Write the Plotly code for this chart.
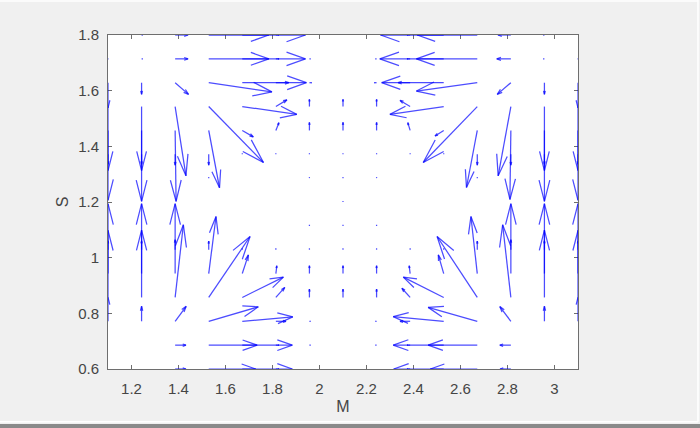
import plotly.graph_objects as go

# grid of the field (M across, S up)
M_GRID = [1.1, 1.2429, 1.3857, 1.5286, 1.6714, 1.8143, 1.9571, 2.1,
          2.2429, 2.3857, 2.5286, 2.6714, 2.8143, 2.9571, 3.1]
S_GRID = [0.6, 0.6857, 0.7714, 0.8571, 0.9429, 1.0286, 1.1143, 1.2,
          1.2857, 1.3714, 1.4571, 1.5429, 1.6286, 1.7143, 1.8]

# arrow components as drawn (data units), rows from S=0.6 up to S=1.8
U = [
    [0, 0, 0.046, 0.200, 0.213, 0.013, 0, 0, 0, -0.013, -0.213, -0.200, -0.046, 0, 0],
    [0, 0, 0.046, 0.206, 0.213, 0.013, 0.004, 0, -0.004, -0.013, -0.215, -0.209, -0.047, 0, 0],
    [0, 0, 0.047, 0.211, 0.215, 0.043, 0.004, 0, -0.004, -0.043, -0.215, -0.209, -0.047, 0, 0],
    [0, 0, 0.035, 0.176, 0.175, 0.038, 0, 0, 0, -0.035, -0.172, -0.171, -0.035, 0, 0],
    [0, 0, 0, 0.031, 0.026, 0.004, 0, 0, 0, -0.004, -0.023, -0.027, 0, 0, 0],
    [0, 0, 0, 0, 0, 0, 0, 0, 0, 0, 0, 0, 0, 0, 0],
    [0, 0, 0, 0, 0, 0, 0, 0, 0, 0, 0, 0, 0, 0, 0],
    [0, 0, 0, 0, 0, 0, 0, 0, 0, 0, 0, 0, 0, 0, 0],
    [0, 0, 0, 0, 0, 0, 0, 0, 0, 0, 0, 0, 0, 0, 0],
    [0, 0, 0, 0, 0, 0, 0, 0, 0, 0, 0, 0, 0, 0, 0],
    [0, 0, 0.004, 0.046, 0.047, 0.013, 0, 0, 0, -0.010, -0.037, -0.046, -0.004, 0, 0],
    [0, 0, 0.046, 0.233, 0.232, 0.047, 0, 0, 0, -0.043, -0.229, -0.230, -0.054, 0, 0],
    [0, 0, 0.057, 0.269, 0.273, 0.055, 0.009, 0, -0.009, -0.051, -0.264, -0.259, -0.058, 0, 0],
    [0.002, 0.004, 0.055, 0.256, 0.269, 0.013, 0.004, 0, -0.004, -0.013, -0.272, -0.259, -0.060, -0.004, -0.002],
    [0, 0.004, 0.055, 0.256, 0.269, 0.013, 0, 0, 0, -0.013, -0.269, -0.256, -0.055, -0.004, 0],
]
V = [
    [0, 0, 0, 0, 0, 0, 0, 0, 0, 0, 0, 0, 0, 0, 0],
    [0, 0, 0, 0, 0, 0, 0, 0, 0, 0, 0, 0, 0, 0, 0],
    [0.086, 0.054, 0.054, 0.052, 0.016, 0, 0, 0, 0, 0, 0.017, 0.050, 0.053, 0.054, 0.086],
    [0.241, 0.242, 0.261, 0.219, 0.073, 0.036, 0.030, 0.030, 0.030, 0.033, 0.073, 0.219, 0.261, 0.242, 0.241],
    [0.251, 0.251, 0.251, 0.205, 0.067, 0.028, 0.028, 0.028, 0.028, 0.028, 0.067, 0.205, 0.251, 0.251, 0.251],
    [0.032, 0.032, 0.036, 0.031, 0.004, 0.004, 0.004, 0.004, 0.004, 0.004, 0.004, 0.031, 0.036, 0.032, 0.032],
    [0, 0, 0, 0, 0, 0, 0.003, 0.003, 0.003, 0, 0, 0, 0, 0, 0],
    [0, 0, 0, 0, 0, 0, 0, 0.003, 0, 0, 0, 0, 0, 0, 0],
    [0, 0, 0, 0.003, 0, 0, 0.003, 0.003, 0.003, 0, 0, 0.003, 0, 0, 0],
    [-0.036, -0.036, -0.039, -0.039, 0.003, 0.003, 0.003, 0.003, 0.003, 0.003, 0.003, -0.039, -0.039, -0.036, -0.036],
    [-0.251, -0.255, -0.255, -0.206, -0.023, 0.028, 0.029, 0.029, 0.029, 0.028, -0.020, -0.205, -0.248, -0.255, -0.251],
    [-0.230, -0.230, -0.249, -0.201, -0.028, 0.024, 0.026, 0.026, 0.026, 0.022, -0.028, -0.201, -0.249, -0.230, -0.230],
    [-0.090, -0.042, -0.042, -0.033, 0, 0, 0, 0, 0, 0, 0, -0.030, -0.042, -0.042, -0.090],
    [0, 0, 0, 0, 0, 0, 0, 0, 0, 0, 0, 0, 0, 0, 0],
    [0, 0, 0, 0, 0, 0, 0, 0, 0, 0, 0, 0, 0, 0, 0],
]

X_TICKS = [1.2, 1.4, 1.6, 1.8, 2.0, 2.2, 2.4, 2.6, 2.8, 3.0]
X_LABELS = ["1.2", "1.4", "1.6", "1.8", "2", "2.2", "2.4", "2.6", "2.8", "3"]
Y_TICKS = [0.6, 0.8, 1.0, 1.2, 1.4, 1.6, 1.8]
Y_LABELS = ["0.6", "0.8", "1", "1.2", "1.4", "1.6", "1.8"]

# matlab style arrow heads
HEAD_LEN = 0.3
HEAD_W = 0.3

xs, ys = [], []
for j, s in enumerate(S_GRID):
    for i, m in enumerate(M_GRID):
        u, v = U[j][i], V[j][i]
        if u == 0 and v == 0:
            continue
        tx, ty = m + u, s + v
        xs += [m, tx, None,
               tx - HEAD_LEN * (u + HEAD_W * v), tx, tx - HEAD_LEN * (u - HEAD_W * v), None]
        ys += [s, ty, None,
               ty - HEAD_LEN * (v - HEAD_W * u), ty, ty - HEAD_LEN * (v + HEAD_W * u), None]

fig = go.Figure()
fig.add_trace(
    go.Scatter(
        x=xs,
        y=ys,
        mode="lines",
        line=dict(color="rgba(0,0,255,0.7)", width=1.25),
        hoverinfo="skip",
        showlegend=False,
    )
)

font_fam = "Arial, Liberation Sans, sans-serif"
axis_common = dict(
    showgrid=False,
    zeroline=False,
    showline=True,
    linecolor="#6e6e6e",
    linewidth=1,
    mirror="allticks",
    ticks="inside",
    ticklen=4,
    tickcolor="#6e6e6e",
    tickfont=dict(family=font_fam, size=15, color="#454545"),
    layer="below traces",
    automargin=False,
)
fig.update_xaxes(
    range=[1.1, 3.1],
    tickvals=X_TICKS,
    ticktext=X_LABELS,
    ticklabelstandoff=6,
    title=dict(text="M", font=dict(family=font_fam, size=16, color="#454545"), standoff=4),
    **axis_common,
)
fig.update_yaxes(
    range=[0.6, 1.8],
    tickvals=Y_TICKS,
    ticktext=Y_LABELS,
    ticklabelstandoff=5,
    title=dict(text="S", font=dict(family=font_fam, size=16, color="#454545"), standoff=5),
    **axis_common,
)

# window border seen in the screenshot (paper coords relative to plot area)
fig.add_shape(type="rect", xref="paper", yref="paper", x0=-0.23, x1=1.26, y0=-0.1767, y1=-0.1647,
              fillcolor="#8a8a8a", line_width=0, layer="above")
fig.add_shape(type="line", xref="paper", yref="paper", x0=-0.23, x1=1.2553, y0=-0.1578, y1=-0.1578,
              line=dict(color="white", width=1.5), layer="above")
fig.add_shape(type="line", xref="paper", yref="paper", x0=1.2553, x1=1.2553, y0=-0.1578, y1=1.105,
              line=dict(color="white", width=1.5), layer="above")
fig.add_shape(type="line", xref="paper", yref="paper", x0=-0.23, x1=1.2553, y0=1.1018, y1=1.1018,
              line=dict(color="white", width=1.5), layer="above")

fig.update_layout(
    width=700,
    height=428,
    paper_bgcolor="#f0f0f0",
    plot_bgcolor="white",
    margin=dict(l=108, r=122, t=35, b=59),
    font=dict(family=font_fam, color="#454545"),
)

# drop the default page margin so the figure sits at the window corner
fig.write_html(
    "out.html",
    config={"displayModeBar": False},
    post_script="document.body.style.margin='0';",
)
